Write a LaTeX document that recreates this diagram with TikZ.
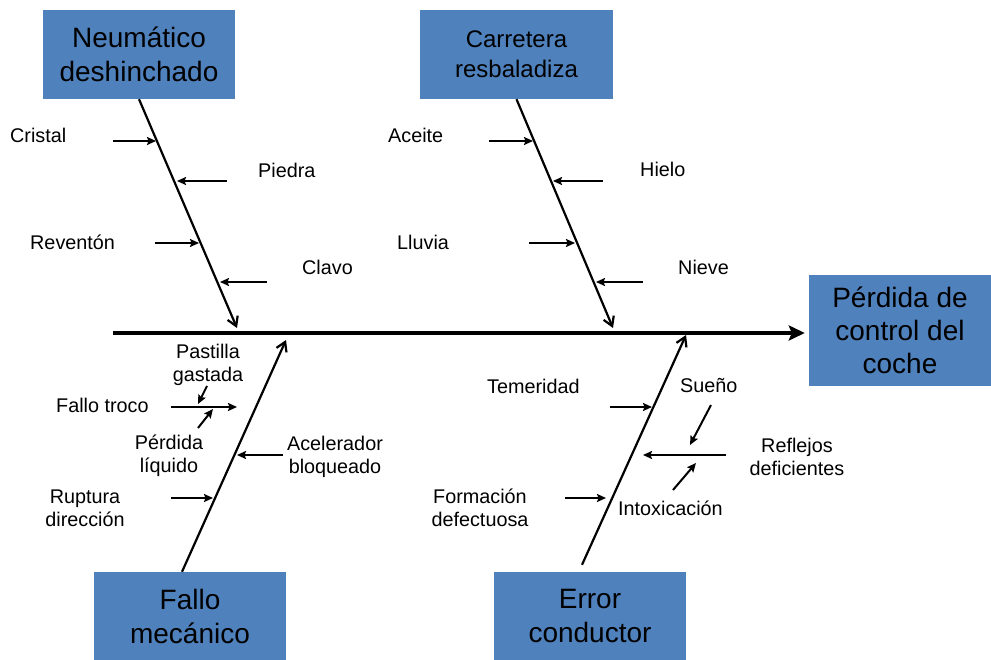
\documentclass[tikz,border=0pt]{standalone}
\usepackage{fontspec}
\setmainfont{Liberation Sans}
\usetikzlibrary{arrows.meta}
\definecolor{boxblue}{HTML}{4F81BD}
\begin{document}
\begin{tikzpicture}[x=1pt,y=-1pt,
  causebox/.style={rectangle, fill=boxblue, inner sep=0pt, align=center, text=black},
  lbl/.style={inner sep=0pt, font=\fontsize{19.8}{23}\selectfont, align=center},
  bone/.style={line width=2.2pt, -{Straight Barb[length=9pt,width=11pt]}},
  sub/.style={line width=2pt, -{Stealth[length=9pt,width=8pt,inset=1.5pt]}},
  spine/.style={line width=4.5pt, -{Stealth[length=16pt,width=15pt,inset=3pt]}}]

\useasboundingbox (0,0) rectangle (991,660);
\fill[white] (0,0) rectangle (991,660);

% cause boxes and effect box
\node[causebox, minimum width=192pt, minimum height=89pt, font=\fontsize{28}{34}\selectfont]
  (neum) at (139,54.5) {Neumático\\deshinchado};
\node[causebox, minimum width=193pt, minimum height=89pt, font=\fontsize{24}{30}\selectfont]
  (carr) at (516.5,54.5) {Carretera\\resbaladiza};
\node[causebox, minimum width=192pt, minimum height=88pt, font=\fontsize{28}{34}\selectfont]
  (fallo) at (190,616) {Fallo\\mecánico};
\node[causebox, minimum width=192pt, minimum height=88pt, font=\fontsize{28}{34}\selectfont]
  (error) at (590,616) {Error\\conductor};
\node[causebox, minimum width=182pt, minimum height=111pt, font=\fontsize{28}{33}\selectfont]
  (perd) at (900,330.5) {Pérdida de\\control del\\coche};

% main spine
\coordinate (sp) at (113,333);
\draw[spine, shorten >=4pt] (sp) -- (perd.west |- sp);

% bones
\coordinate (b1e) at (237,328);
\coordinate (b2e) at (613,328);
\coordinate (b3e) at (286,340);
\coordinate (b4e) at (686,335);
\draw[bone] (neum.south) -- (b1e);
\draw[bone] (carr.south) -- (b2e);
\draw[bone] ([xshift=-8pt]fallo.north) -- (b3e);
\draw[bone] ([xshift=-8pt,yshift=7pt]error.north) -- (b4e);

% Neumático deshinchado
\node[lbl, anchor=base west] (cristal) at (10,143) {Cristal};
\node[lbl, anchor=base west] (piedra) at (258,178) {Piedra};
\node[lbl, anchor=base west] (revent) at (30,250) {Reventón};
\node[lbl, anchor=base west] (clavo) at (302,275) {Clavo};
\coordinate (c1a) at (113,141); \coordinate (c1b) at (156,141);
\coordinate (c2a) at (227,181); \coordinate (c2b) at (177,181);
\coordinate (c3a) at (155,243); \coordinate (c3b) at (199,243);
\coordinate (c4a) at (267,282); \coordinate (c4b) at (220,282);
\draw[sub] (c1a) -- (c1b);
\draw[sub] (c2a) -- (c2b);
\draw[sub] (c3a) -- (c3b);
\draw[sub] (c4a) -- (c4b);

% Carretera resbaladiza
\node[lbl, anchor=base west] (aceite) at (388,143) {Aceite};
\node[lbl, anchor=base west] (hielo) at (640,177) {Hielo};
\node[lbl, anchor=base west] (lluvia) at (397,250) {Lluvia};
\node[lbl, anchor=base west] (nieve) at (678,275) {Nieve};
\coordinate (r1a) at (489,141); \coordinate (r1b) at (533,141);
\coordinate (r2a) at (603,181); \coordinate (r2b) at (553,181);
\coordinate (r3a) at (529,243); \coordinate (r3b) at (575,243);
\coordinate (r4a) at (643,282); \coordinate (r4b) at (596,282);
\draw[sub] (r1a) -- (r1b);
\draw[sub] (r2a) -- (r2b);
\draw[sub] (r3a) -- (r3b);
\draw[sub] (r4a) -- (r4b);

% Fallo mecánico
\node[lbl, anchor=base west] (troco) at (56,413) {Fallo troco};
\node[lbl] (pastilla) at (208,365) {Pastilla\\gastada};
\node[lbl] (liquido) at (169,456) {Pérdida\\líquido};
\node[lbl] (acel) at (335,457) {Acelerador\\bloqueado};
\node[lbl] (ruptura) at (85,508) {Ruptura\\dirección};
\coordinate (m1a) at (171,407); \coordinate (m1b) at (237,407);
\coordinate (m2a) at (207,386); \coordinate (m2b) at (198,404);
\coordinate (m3a) at (198,428); \coordinate (m3b) at (213,409);
\coordinate (m4a) at (283,455); \coordinate (m4b) at (237,455);
\coordinate (m5a) at (171,498); \coordinate (m5b) at (213,498);
\draw[sub] (m1a) -- (m1b);
\draw[sub] (m2a) -- (m2b);
\draw[sub] (m3a) -- (m3b);
\draw[sub] (m4a) -- (m4b);
\draw[sub] (m5a) -- (m5b);

% Error conductor
\node[lbl, anchor=base west] (temer) at (487,393) {Temeridad};
\node[lbl, anchor=base west] (sueno) at (680,392) {Sueño};
\node[lbl, anchor=base west] (intox) at (618,515) {Intoxicación};
\node[lbl] (reflejos) at (797,457) {Reflejos\\deficientes};
\node[lbl] (formac) at (480,508) {Formación\\defectuosa};
\coordinate (e1a) at (610,407); \coordinate (e1b) at (652,407);
\coordinate (e2a) at (711,405); \coordinate (e2b) at (690,445);
\coordinate (e3a) at (726,455); \coordinate (e3b) at (643,455);
\coordinate (e4a) at (673,490); \coordinate (e4b) at (696,463);
\coordinate (e5a) at (565,498); \coordinate (e5b) at (606,498);
\draw[sub] (e1a) -- (e1b);
\draw[sub] (e2a) -- (e2b);
\draw[sub] (e3a) -- (e3b);
\draw[sub] (e4a) -- (e4b);
\draw[sub] (e5a) -- (e5b);
\end{tikzpicture}
\end{document}
